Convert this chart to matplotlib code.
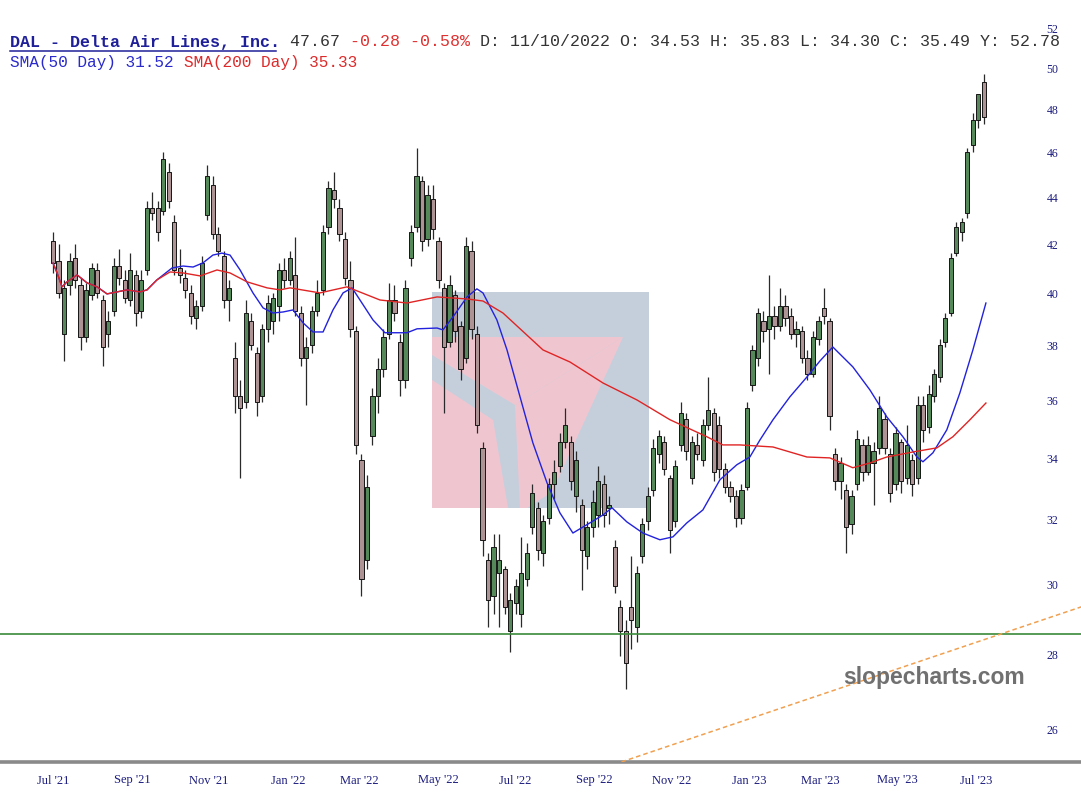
import numpy as np
import pandas as pd
import matplotlib
matplotlib.use("Agg")
import matplotlib.pyplot as plt
from matplotlib.patches import Polygon, Rectangle
from matplotlib.lines import Line2D
import matplotlib.transforms as mtransforms

W, H, DPI = 1081, 802, 100

# ---------------- data ----------------
holidays = ["2021-07-05", "2021-09-06", "2021-11-25", "2021-12-24", "2022-01-17",
            "2022-02-21", "2022-04-15", "2022-05-30", "2022-06-20", "2022-07-04",
            "2022-09-05", "2022-11-24", "2022-12-26", "2023-01-02", "2023-01-16",
            "2023-02-20", "2023-04-07", "2023-05-29", "2023-06-19", "2023-07-04"]
trading_days = pd.bdate_range("2021-07-01", "2023-07-31", freq="C", holidays=holidays)
candle_step = 3  # each candle spans three sessions

opens = [42.2, 41.4, 38.5, 40.4, 41.5, 40.4, 38.4, 40.0, 41.0, 39.8,
         38.5, 39.4, 41.2, 40.6, 39.8, 40.8, 39.4, 41.0, 43.6, 43.6,
         43.5, 45.2, 43.0, 41.1, 40.7, 40.1, 39.1, 39.6, 43.3, 44.6,
         42.5, 41.6, 39.8, 37.6, 36.2, 36.0, 39.0, 37.8, 36.2, 38.7,
         39.0, 39.6, 41.0, 40.6, 40.8, 39.3, 37.6, 38.1, 39.4, 40.2,
         42.8, 44.4, 43.6, 42.3, 40.6, 38.6, 34.0, 30.8, 34.8, 36.2,
         37.2, 38.5, 39.8, 38.2, 36.8, 41.5, 42.8, 44.8, 42.3, 44.0,
         42.2, 40.3, 38.2, 40.0, 38.8, 37.6, 41.8, 38.5, 34.4, 30.8,
         29.7, 30.4, 30.5, 28.7, 29.5, 29.2, 30.2, 31.8, 32.4, 31.0,
         32.1, 33.2, 33.8, 34.6, 34.6, 32.8, 32.5, 30.9, 31.8, 32.2,
         33.2, 32.4, 31.2, 29.4, 28.7, 29.4, 28.8, 30.9, 32.0, 33.0,
         34.2, 34.6, 33.4, 32.0, 34.5, 35.4, 33.4, 34.5, 34.0, 35.2,
         35.6, 35.2, 33.7, 33.1, 32.8, 32.1, 33.1, 36.6, 37.6, 39.0,
         38.7, 39.2, 38.8, 39.6, 39.2, 38.5, 38.6, 37.6, 37.0, 38.3,
         39.5, 39.0, 34.2, 33.3, 33.0, 31.9, 33.2, 34.5, 33.6, 33.9,
         34.4, 35.4, 34.2, 33.2, 34.6, 33.4, 34.0, 33.4, 35.9, 35.1,
         36.2, 36.9, 38.2, 39.3, 41.7, 42.6, 43.4, 46.4, 47.6, 49.4]
highs = [42.6, 42.1, 40.6, 41.7, 42.1, 40.7, 40.5, 41.3, 41.3, 40.0,
         39.4, 41.5, 41.9, 41.0, 41.7, 41.0, 41.0, 43.9, 44.3, 43.9,
         46.1, 45.6, 43.3, 41.9, 41.0, 40.4, 39.8, 41.6, 45.5, 45.0,
         42.8, 41.8, 40.6, 38.2, 36.8, 39.8, 39.3, 38.0, 38.9, 40.0,
         40.1, 41.3, 41.5, 41.8, 42.4, 39.6, 38.4, 39.6, 40.6, 42.9,
         44.8, 45.2, 44.0, 42.6, 41.4, 38.8, 34.2, 33.5, 36.5, 37.6,
         38.7, 40.5, 40.4, 38.5, 40.6, 42.9, 46.3, 45.0, 44.6, 44.6,
         42.4, 40.5, 40.8, 40.2, 39.0, 42.4, 42.2, 38.8, 34.6, 31.0,
         31.6, 31.6, 30.6, 29.8, 30.2, 31.5, 31.3, 33.2, 32.6, 32.2,
         33.4, 34.0, 34.9, 35.8, 34.8, 34.3, 32.7, 32.0, 33.0, 33.8,
         33.5, 32.8, 31.4, 29.6, 29.0, 30.9, 30.6, 32.1, 33.1, 34.7,
         35.0, 34.8, 33.5, 34.0, 36.0, 35.6, 34.8, 34.9, 35.4, 36.9,
         35.8, 35.5, 33.9, 33.3, 33.0, 33.2, 36.0, 38.1, 39.5, 39.4,
         40.8, 39.6, 40.3, 40.0, 39.5, 39.0, 38.8, 37.9, 38.6, 39.2,
         40.3, 39.1, 34.4, 34.1, 33.2, 33.0, 35.0, 34.7, 34.8, 34.6,
         36.2, 35.6, 34.4, 35.1, 34.7, 35.2, 34.2, 36.2, 36.2, 36.6,
         37.2, 38.3, 39.3, 41.7, 43.0, 43.2, 46.3, 47.9, 48.7, 49.8]
lows = [40.9, 39.9, 37.5, 40.0, 40.3, 37.9, 38.2, 39.8, 39.9, 37.3,
        38.0, 39.2, 40.4, 39.7, 39.6, 38.8, 39.1, 40.8, 43.1, 42.2,
        43.3, 43.6, 40.8, 40.5, 39.9, 38.9, 38.7, 39.4, 43.1, 42.3,
        41.6, 39.5, 39.0, 35.6, 33.4, 35.8, 37.9, 35.5, 36.0, 38.2,
        38.5, 39.0, 40.3, 40.4, 39.2, 37.3, 35.9, 37.8, 39.2, 40.0,
        42.5, 43.6, 42.2, 40.4, 38.4, 34.2, 29.7, 30.5, 34.5, 35.6,
        36.9, 38.3, 39.0, 36.2, 36.5, 41.2, 42.6, 41.8, 42.0, 42.3,
        40.3, 35.6, 38.0, 38.2, 36.8, 37.4, 38.3, 34.9, 30.9, 28.8,
        29.2, 28.8, 29.2, 28.1, 29.2, 28.8, 30.0, 31.6, 30.8, 30.6,
        31.9, 32.7, 33.6, 34.4, 33.0, 32.3, 29.9, 30.5, 31.5, 31.8,
        31.8, 31.9, 29.8, 28.0, 27.1, 28.2, 28.4, 30.7, 31.7, 32.8,
        33.9, 33.5, 31.0, 31.8, 34.3, 34.0, 33.2, 34.0, 33.8, 35.0,
        33.3, 33.4, 32.9, 32.6, 31.8, 31.9, 33.0, 36.4, 37.3, 38.2,
        37.0, 38.3, 38.6, 38.8, 38.3, 38.0, 37.4, 36.8, 36.9, 38.1,
        38.9, 35.0, 33.0, 32.7, 31.0, 31.6, 33.0, 33.3, 33.5, 32.5,
        34.2, 34.2, 32.6, 33.0, 32.9, 33.2, 32.8, 33.2, 34.6, 34.9,
        36.0, 36.7, 38.0, 39.2, 41.6, 42.2, 43.2, 46.1, 47.2, 47.4]
closes = [41.3, 40.1, 40.3, 41.4, 40.6, 38.4, 40.2, 41.1, 40.1, 38.0,
          39.0, 41.2, 40.7, 39.9, 41.0, 39.3, 40.6, 43.6, 43.4, 42.6,
          45.8, 43.9, 41.0, 40.8, 40.2, 39.2, 39.6, 41.3, 45.0, 42.5,
          41.8, 39.8, 40.3, 36.2, 35.8, 39.3, 38.1, 36.0, 38.7, 39.7,
          39.9, 41.0, 40.6, 41.5, 39.4, 37.6, 38.0, 39.4, 40.1, 42.6,
          44.5, 44.0, 42.5, 40.7, 38.7, 34.5, 30.2, 33.1, 36.2, 37.2,
          38.4, 39.8, 39.3, 36.8, 40.3, 42.6, 45.0, 42.2, 44.2, 42.7,
          40.6, 38.0, 40.4, 38.6, 37.2, 42.0, 38.7, 35.2, 31.4, 29.6,
          31.2, 30.8, 29.4, 29.6, 30.0, 30.4, 31.0, 32.9, 31.1, 32.0,
          33.2, 33.6, 34.6, 35.2, 33.3, 34.0, 31.1, 31.8, 32.6, 33.3,
          32.2, 32.5, 30.0, 28.7, 27.8, 29.0, 30.4, 31.9, 32.8, 34.4,
          34.8, 33.7, 31.7, 33.8, 35.6, 34.3, 34.6, 34.2, 35.2, 35.7,
          33.6, 33.7, 33.1, 32.8, 32.1, 33.0, 35.8, 37.9, 39.3, 38.6,
          39.2, 38.8, 39.6, 39.1, 38.5, 38.7, 37.6, 37.0, 38.4, 39.0,
          39.2, 35.5, 33.3, 33.9, 31.8, 32.8, 34.7, 33.6, 34.5, 34.3,
          35.8, 34.4, 32.9, 34.9, 33.3, 34.5, 33.2, 35.9, 35.0, 36.3,
          37.0, 38.1, 39.1, 41.5, 42.8, 43.0, 46.1, 47.6, 48.8, 47.7]

# moving averages: (session index, price)
sma50_pos = [0, 2.2, 4.9, 7.6, 13.1, 18.5, 24.0, 29.4, 34.9, 40.3, 47.4, 51.2, 56.6,
             64.8, 70.8, 76.3, 81.7, 87.1, 92.0, 96.4, 101.9, 108.9, 114.4, 119.8,
             125.3, 130.7, 136.2, 141.6, 147.1, 152.5, 158.0, 162.9, 167.2, 174.3,
             180.8, 187.4, 192.8, 198.3, 209.2, 212.4, 217.9, 225.5, 230.9, 234.2,
             241.8, 247.3, 254.4, 261.4, 269.1, 276.1, 283.2, 292.5, 299.6, 304.5,
             312.6, 321.3, 330.6, 337.7, 345.3, 354.0, 363.3, 372.5, 379.6, 385.1,
             392.2, 401.4, 410.7, 417.8, 424.8, 435.7, 445.0, 454.2, 463.0, 470.6,
             473.9, 479.3, 486.9, 494.0, 501.1, 508.2]
sma50_val = [41.3, 40.9, 40.34, 40.54, 40.82, 40.5, 40.34, 40.06, 40.14, 40.22, 40.14,
             40.22, 40.62, 41.1, 41.18, 41.14, 41.31, 41.63, 41.71, 41.63, 41.02, 40.1,
             39.51, 39.31, 39.35, 39.43, 38.93, 38.58, 38.58, 39.43, 40.1, 40.3, 39.82,
             39.04, 38.55, 38.55, 38.55, 38.7, 38.73, 38.66, 39.16, 39.94, 40.26, 40.1,
             39.04, 37.9, 36.18, 34.57, 33.23, 32.26, 31.62, 31.94, 32.19, 32.42, 31.97,
             31.62, 31.41, 31.5, 31.94, 32.35, 33.33, 33.83, 34.09, 34.67, 35.37, 36.18,
             36.9, 37.49, 38.01, 37.27, 36.43, 35.47, 34.78, 34.09, 33.93, 34.23, 35.02,
             36.32, 37.9, 39.7]
sma200_pos = [0, 2.2, 4.9, 7.6, 13.1, 18.5, 24.0, 29.4, 34.9, 40.3, 47.4, 51.2, 56.6,
              63.7, 70.8, 80.1, 89.3, 96.4, 105.7, 116.6, 123.6, 129.1, 145.4, 160.1,
              178.1, 192.8, 209.2, 225.5, 234.2, 245.1, 266.9, 281.6, 299.6, 318.1,
              336.1, 356.2, 364.9, 374.2, 392.2, 410.7, 423.2, 435.7, 445.0, 454.2,
              468.4, 481.5, 490.2, 499.5, 508.2]
sma200_val = [41.3, 40.9, 40.34, 40.54, 40.82, 40.5, 40.34, 40.06, 40.14, 40.22, 40.14,
              40.22, 40.62, 40.94, 40.9, 40.78, 41.02, 40.9, 40.54, 40.3, 40.22, 40.3,
              40.1, 40.34, 39.82, 39.7, 39.94, 39.86, 39.78, 39.31, 37.9, 37.45, 36.68,
              36.07, 35.37, 34.78, 34.5, 34.5, 34.43, 34.09, 34.06, 33.73, 33.89, 34.09,
              34.26, 34.4, 34.78, 35.37, 35.96]

support_level = 28.62
trend_pos = [290, 570]
trend_val = [24.91, 29.57]

tick_months = ["2021-07", "2021-09", "2021-11", "2022-01", "2022-03", "2022-05",
               "2022-07", "2022-09", "2022-11", "2023-01", "2023-03", "2023-05", "2023-07"]
tick_labels = ["Jul '21", "Sep '21", "Nov '21", "Jan '22", "Mar '22", "May '22",
               "Jul '22", "Sep '22", "Nov '22", "Jan '23", "Mar '23", "May '23", "Jul '23"]
price_ticks = [26, 28, 30, 32, 34, 36, 38, 40, 42, 44, 46, 48, 50, 52]

# ---------------- figure ----------------
fig = plt.figure(figsize=(W / DPI, H / DPI), dpi=DPI)
ax = fig.add_axes([0, 40 / H, 1, 762 / H])
ax.set_yscale("log")

# pixel transform (image coordinates, origin top-left)
px = mtransforms.Affine2D().scale(1 / W, -1 / H).translate(0, 1) + fig.transFigure

# slopecharts logo watermark behind candles
ax.add_patch(Rectangle((432, 292), 217, 216, transform=px, facecolor="#c5cfdc",
                       edgecolor="none", zorder=0.5))
pink = "#f4c5cf"
for poly in [
    [(432, 337), (623, 337), (515, 405), (432, 355)],
    [(432, 380), (493, 420), (508, 508), (432, 508)],
    [(515, 405), (623, 337), (552, 492), (527, 508), (520, 508)],
]:
    ax.add_patch(Polygon(poly, closed=True, transform=px, facecolor=pink,
                         edgecolor="none", alpha=0.9, zorder=0.6))

O = np.array(opens); Hh = np.array(highs); L = np.array(lows); C = np.array(closes)
pos = np.arange(len(C)) * candle_step
up = C >= O
ax.vlines(pos, L, Hh, color="#2a2a2a", lw=0.9, zorder=2)
ax.bar(pos, np.maximum(np.abs(C - O), 0.05), bottom=np.minimum(O, C), width=2.3,
       color=np.where(up, "#55895a", "#ad9393"), edgecolor="#151515",
       linewidth=0.7, zorder=3)

ax.plot(sma50_pos, sma50_val, color="#2222dd", lw=1.0, zorder=4)
ax.plot(sma200_pos, sma200_val, color="#e02424", lw=1.0, zorder=4.1)

ax.axhline(support_level, color="#3a8a3a", lw=1.2, zorder=4)
ax.plot(trend_pos, trend_val, color="#f0a050", lw=1.1, ls=(0, (3, 2)), zorder=4)

# axes styling
for s in ["top", "left", "right"]:
    ax.spines[s].set_visible(False)
ax.spines["bottom"].set_color("#8a8a8a")
ax.spines["bottom"].set_linewidth(2.6)

tick_pos = [int(np.searchsorted(trading_days, pd.Timestamp(m + "-01"))) for m in tick_months]
ax.set_xticks(tick_pos)
ax.set_xticklabels(tick_labels, fontfamily="Liberation Serif", fontsize=9, color="#1c1c80")
ax.tick_params(axis="x", length=0, pad=9)
ax.yaxis.set_major_locator(matplotlib.ticker.NullLocator())
ax.yaxis.set_minor_locator(matplotlib.ticker.NullLocator())
blend = mtransforms.blended_transform_factory(ax.transAxes, ax.transData)
for v in price_ticks:
    ax.text(0.9735, v, str(v), transform=blend, ha="center", va="center",
            fontsize=8.5, family="Liberation Serif", color="#1c1c80")

ax.set_xlim(-28.9, 560)
ax.set_ylim(25.21, 53.58)

# header
def ftext(xp, yp, s, **kw):
    fig.text(xp / W, 1 - yp / H, s, va="center", ha="left", **kw)

fs1 = 12.0
cw1 = fs1 * DPI / 72 * 0.6
x0 = 10
ftext(x0, 42, "DAL - Delta Air Lines, Inc.", family="Liberation Mono", fontsize=fs1,
      fontweight="bold", color="#1f1f99")
ftext(x0 + 27 * cw1, 42, " 47.67", family="Liberation Mono", fontsize=fs1, color="#333333")
ftext(x0 + 33 * cw1, 42, " -0.28 -0.58%", family="Liberation Mono", fontsize=fs1, color="#e03030")
ftext(x0 + 46 * cw1, 42, " D: 11/10/2022 O: 34.53 H: 35.83 L: 34.30 C: 35.49 Y: 52.78",
      family="Liberation Mono", fontsize=fs1, color="#333333")
fig.add_artist(Line2D([x0, x0 + 27 * cw1 - 4], [51, 51], transform=px, color="#1f1f99", lw=1.1))

fs2 = 11.6
cw2 = fs2 * DPI / 72 * 0.6
ftext(x0, 63, "SMA(50 Day) 31.52", family="Liberation Mono", fontsize=fs2, color="#2a2acc")
ftext(x0 + 18 * cw2, 63, "SMA(200 Day) 35.33", family="Liberation Mono", fontsize=fs2, color="#dd2a2a")

# watermark
fig.text(934 / W, 1 - 684 / H, "slopecharts.com", ha="center", va="baseline",
         family="Liberation Sans", fontweight="bold", fontsize=16.5, color="#707070")

fig.savefig("out.png", dpi=DPI)
